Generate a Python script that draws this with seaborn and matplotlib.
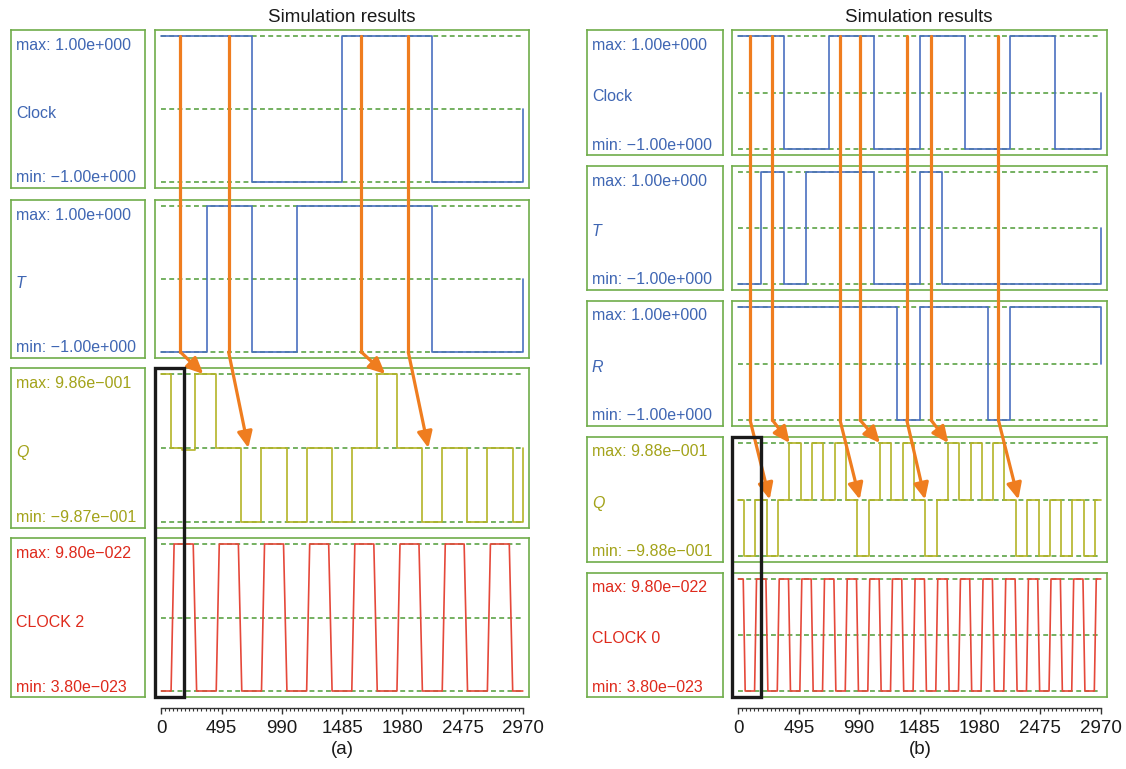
import numpy as np
import matplotlib
matplotlib.use('Agg')
import matplotlib.pyplot as plt
from matplotlib.patches import FancyArrowPatch, Rectangle
from matplotlib.lines import Line2D
from matplotlib.ticker import FixedLocator
import seaborn as sns

sns.set_style('white')
plt.rcParams['font.family'] = ['Liberation Sans', 'DejaVu Sans']

t_end = 2970
xticks = [0, 495, 990, 1485, 1980, 2475, 2970]

# ---------------- panel (a) ----------------
clock_a_t = [0, 742.5, 1485, 2227.5, 2970]
clock_a_v = [1.0, -1.0, 1.0, -1.0, 0.0]

T_a_t = [0, 371.25, 742.5, 1113.75, 2227.5, 2970]
T_a_v = [-1.0, 1.0, -1.0, 1.0, -1.0, 0.0]

Q_a_t = [0, 80, 170, 280, 453, 655, 823, 1030, 1194, 1402, 1566, 1775, 1937,
         2140, 2309, 2512, 2680, 2887, 2970]
Q_a_v = [0.986, 0.0, -0.03, 0.986, 0.0, -0.987, 0.0, -0.987, 0.0, -0.987, 0.0,
         0.986, 0.0, -0.987, 0.0, -0.987, 0.0, -0.987, 0.0]

clk2_t = [0, 80, 105, 262, 290, 451, 476, 633, 661, 823, 848, 1004, 1032, 1194,
          1219, 1375, 1403, 1565, 1590, 1746, 1774, 1936, 1961, 2117, 2145, 2308,
          2333, 2488, 2516, 2679, 2704, 2859, 2887, 2970]
clk2_v = [3.8e-23, 3.8e-23, 9.8e-22, 9.8e-22, 3.8e-23, 3.8e-23, 9.8e-22, 9.8e-22,
          3.8e-23, 3.8e-23, 9.8e-22, 9.8e-22, 3.8e-23, 3.8e-23, 9.8e-22, 9.8e-22,
          3.8e-23, 3.8e-23, 9.8e-22, 9.8e-22, 3.8e-23, 3.8e-23, 9.8e-22, 9.8e-22,
          3.8e-23, 3.8e-23, 9.8e-22, 9.8e-22, 3.8e-23, 3.8e-23, 9.8e-22, 9.8e-22,
          3.8e-23, 3.8e-23]

# arrows: (time at clock edge, time at Q, Q level)
arrows_a = [(156, 345, 'top'), (553, 715, 'mid'), (1643, 1840, 'top'), (2029, 2194, 'mid')]

# ---------------- panel (b) ----------------
clock_b_t = [0, 371.25, 742.5, 1113.75, 1485, 1856.25, 2227.5, 2598.75, 2970]
clock_b_v = [1.0, -1.0, 1.0, -1.0, 1.0, -1.0, 1.0, -1.0, 0.0]

T_b_t = [0, 185.6, 371.25, 556.9, 1113.75, 1485, 1670.6, 2970]
T_b_v = [-1.0, 1.0, -1.0, 1.0, -1.0, 1.0, -1.0, 0.0]

R_b_t = [0, 1299.4, 1485, 2041.9, 2227.5, 2970]
R_b_v = [1.0, -1.0, 1.0, -1.0, 1.0, 0.0]

Q_b_t = [0, 47, 140, 233, 325, 418, 511, 604, 697, 789, 882, 975, 1068, 1161, 1253,
         1346, 1439, 1532, 1625, 1717, 1810, 1903, 1996, 2089, 2181, 2274, 2367,
         2460, 2553, 2645, 2738, 2831, 2924, 2970]
Q_b_v = [0.0, -0.988, 0.0, -0.988, 0.0, 0.988, 0.0, 0.988, 0.0, 0.988, 0.0, -0.988,
         0.0, 0.988, 0.0, 0.988, 0.0, -0.988, 0.0, 0.988, 0.0, 0.988, 0.0, 0.988,
         0.0, -0.988, 0.0, -0.988, 0.0, -0.988, 0.0, -0.988, 0.0, 0.0]

clk0_t = [0, 40, 56, 133, 149, 226, 242, 319, 335, 411, 427, 504, 520, 597, 613, 690,
          706, 783, 799, 876, 892, 968, 984, 1061, 1077, 1154, 1170, 1247, 1263, 1339,
          1355, 1432, 1448, 1525, 1541, 1618, 1634, 1711, 1727, 1804, 1820, 1896, 1912,
          1989, 2005, 2082, 2098, 2175, 2191, 2268, 2284, 2361, 2377, 2453, 2469, 2546,
          2562, 2639, 2655, 2732, 2748, 2824, 2840, 2917, 2933, 2970]
clk0_v = [9.8e-22] + [9.8e-22, 3.8e-23, 3.8e-23, 9.8e-22] * 16 + [9.8e-22]

arrows_b = [(96, 257, 'mid'), (279, 421, 'top'), (833, 995, 'mid'), (997, 1161, 'top'),
            (1380, 1530, 'mid'), (1579, 1721, 'top'), (2131, 2295, 'mid')]

# ---------------- styling ----------------
W, H = 1126, 769
frame_green = '#6FAD4A'
dash_green = '#4E9B36'
blue, blue_txt = '#4A6FC0', '#3F66B3'
olive, olive_txt = '#B4B428', '#A3A31A'
red, red_txt = '#E5483A', '#DE2A1C'
orange = '#EF7D1F'
xlim = (-52, 3021)


def rect(x0, y0, x1, y1):
    return [x0 / W, 1 - y1 / H, (x1 - x0) / W, (y1 - y0) / H]


def fmt(v):
    e = int(np.floor(np.log10(abs(v))))
    m = v / 10 ** e
    s = f"{m:.2f}e{'+' if e >= 0 else '-'}{abs(e):03d}"
    return s.replace('-', '\u2212')


fig = plt.figure(figsize=(W / 100, H / 100), dpi=100)


def draw_row(lab_x, plot_x, y0, y1, name, t, v, color, txt_color, italic, steps):
    lab = fig.add_axes(rect(lab_x[0], y0, lab_x[1], y1))
    ax = fig.add_axes(rect(plot_x[0], y0, plot_x[1], y1))
    for a in (lab, ax):
        a.set_xticks([])
        a.set_yticks([])
        for s in a.spines.values():
            s.set_color(frame_green)
            s.set_linewidth(1.2)
    vmin, vmax = min(v), max(v)
    h = y1 - y0
    pad = (vmax - vmin) * 6 / (h - 12)
    for lvl in (vmax, (vmax + vmin) / 2, vmin):
        ax.plot([0, t_end], [lvl, lvl], color=dash_green, lw=1.1, dashes=(3.2, 2.2), zorder=1)
    sns.lineplot(x=t, y=v, ax=ax, color=color, lw=1.2, estimator=None, sort=False,
                 drawstyle='steps-post' if steps else 'default', zorder=2)
    ax.set_xlim(*xlim)
    ax.set_ylim(vmin - pad, vmax + pad)
    ax.set_xlabel('')
    ax.set_ylabel('')

    lw_px = lab_x[1] - lab_x[0]
    kw = dict(transform=lab.transAxes, ha='left', va='center', color=txt_color, fontsize=11.5)
    lab.text(5 / lw_px, 1 - 15 / h, 'max: ' + fmt(vmax), **kw)
    lab.text(5 / lw_px, 0.47, name, style='italic' if italic else 'normal', **kw)
    lab.text(5 / lw_px, 10 / h, 'min: ' + fmt(vmin), **kw)
    return ax, vmin, vmax


def fig_xy(ax, t, y):
    return fig.transFigure.inverted().transform(ax.transData.transform((t, y)))


def draw_arrows(ax_top, top_lvl, ax_bend, bend_lvl, ax_q, qmin, qmax, arrows):
    for t0, t1, where in arrows:
        p0 = fig_xy(ax_top, t0, top_lvl)
        p1 = fig_xy(ax_bend, t0, bend_lvl)
        lvl = qmax if where == 'top' else (qmax + qmin) / 2
        p2 = fig_xy(ax_q, t1, lvl)
        fig.add_artist(Line2D([p0[0], p1[0]], [p0[1], p1[1]], transform=fig.transFigure,
                              color=orange, lw=2.3, solid_capstyle='round', zorder=5))
        fig.add_artist(FancyArrowPatch(p1, p2, transform=fig.transFigure,
                                       arrowstyle='-|>,head_length=0.65,head_width=0.3',
                                       mutation_scale=15, color=orange, lw=2.3,
                                       shrinkA=0, shrinkB=0, capstyle='round', zorder=5))


def draw_box(ax_q, ax_clk, t_right):
    bq = ax_q.get_position()
    bc = ax_clk.get_position()
    xr = fig_xy(ax_q, t_right, 0)[0]
    fig.add_artist(Rectangle((bq.x0, bc.y0), xr - bq.x0, bq.y1 - bc.y0,
                             transform=fig.transFigure, fill=False, ec='#1A1A1A',
                             lw=2.4, zorder=6))


def draw_time_axis(plot_x, label, cx):
    tax = fig.add_axes(rect(plot_x[0], 700, plot_x[1], 708))
    tax.set_facecolor('none')
    tax.set_xlim(*xlim)
    tax.set_yticks([])
    for s in ('top', 'left', 'right'):
        tax.spines[s].set_visible(False)
    tax.spines['bottom'].set_bounds(0, t_end)
    tax.spines['bottom'].set_color('#333333')
    tax.spines['bottom'].set_linewidth(1.0)
    tax.xaxis.set_major_locator(FixedLocator(xticks))
    tax.xaxis.set_minor_locator(FixedLocator(np.arange(0, t_end + 1, 33)))
    tax.set_xticklabels([str(x) for x in xticks])
    tax.tick_params(axis='x', which='both', bottom=True, top=False)
    tax.tick_params(axis='x', which='major', direction='out', length=4.5, width=1.0,
                    color='#333333', labelsize=13.5, pad=4, labelcolor='#1A1A1A')
    tax.tick_params(axis='x', which='minor', direction='out', length=2.5, width=0.8,
                    color='#333333')
    fig.text(cx / W, 1 - 749 / H, label, ha='center', va='center', fontsize=13.5,
             color='#1A1A1A')


# ---- panel (a) layout ----
lab_a, plot_a = (11, 145), (155, 529)
rows_a = [(30, 188), (200, 358), (368, 528), (538, 697)]
ax1, c1min, c1max = draw_row(lab_a, plot_a, *rows_a[0], 'Clock', clock_a_t, clock_a_v, blue, blue_txt, False, True)
ax2, t2min, t2max = draw_row(lab_a, plot_a, *rows_a[1], 'T', T_a_t, T_a_v, blue, blue_txt, True, True)
ax3, q3min, q3max = draw_row(lab_a, plot_a, *rows_a[2], 'Q', Q_a_t, Q_a_v, olive, olive_txt, True, True)
ax4, _, _ = draw_row(lab_a, plot_a, *rows_a[3], 'CLOCK 2', clk2_t, clk2_v, red, red_txt, False, False)
draw_arrows(ax1, c1max, ax2, t2min, ax3, q3min, q3max, arrows_a)
draw_box(ax3, ax4, 183)
draw_time_axis(plot_a, '(a)', 342)
fig.text(342 / W, 1 - 18 / H, 'Simulation results', ha='center', va='center',
         fontsize=13.5, color='#1A1A1A')

# ---- panel (b) layout ----
lab_b, plot_b = (587, 723), (732, 1107)
rows_b = [(30, 155), (166, 290), (301, 426), (437, 562), (573, 697)]
bx1, b1min, b1max = draw_row(lab_b, plot_b, *rows_b[0], 'Clock', clock_b_t, clock_b_v, blue, blue_txt, False, True)
bx2, _, _ = draw_row(lab_b, plot_b, *rows_b[1], 'T', T_b_t, T_b_v, blue, blue_txt, True, True)
bx3, r3min, r3max = draw_row(lab_b, plot_b, *rows_b[2], 'R', R_b_t, R_b_v, blue, blue_txt, True, True)
bx4, qbmin, qbmax = draw_row(lab_b, plot_b, *rows_b[3], 'Q', Q_b_t, Q_b_v, olive, olive_txt, True, True)
bx5, _, _ = draw_row(lab_b, plot_b, *rows_b[4], 'CLOCK 0', clk0_t, clk0_v, red, red_txt, False, False)
draw_arrows(bx1, b1max, bx3, r3min, bx4, qbmin, qbmax, arrows_b)
draw_box(bx4, bx5, 184)
draw_time_axis(plot_b, '(b)', 920)
fig.text(919 / W, 1 - 18 / H, 'Simulation results', ha='center', va='center',
         fontsize=13.5, color='#1A1A1A')

fig.savefig('out.png', dpi=100)
